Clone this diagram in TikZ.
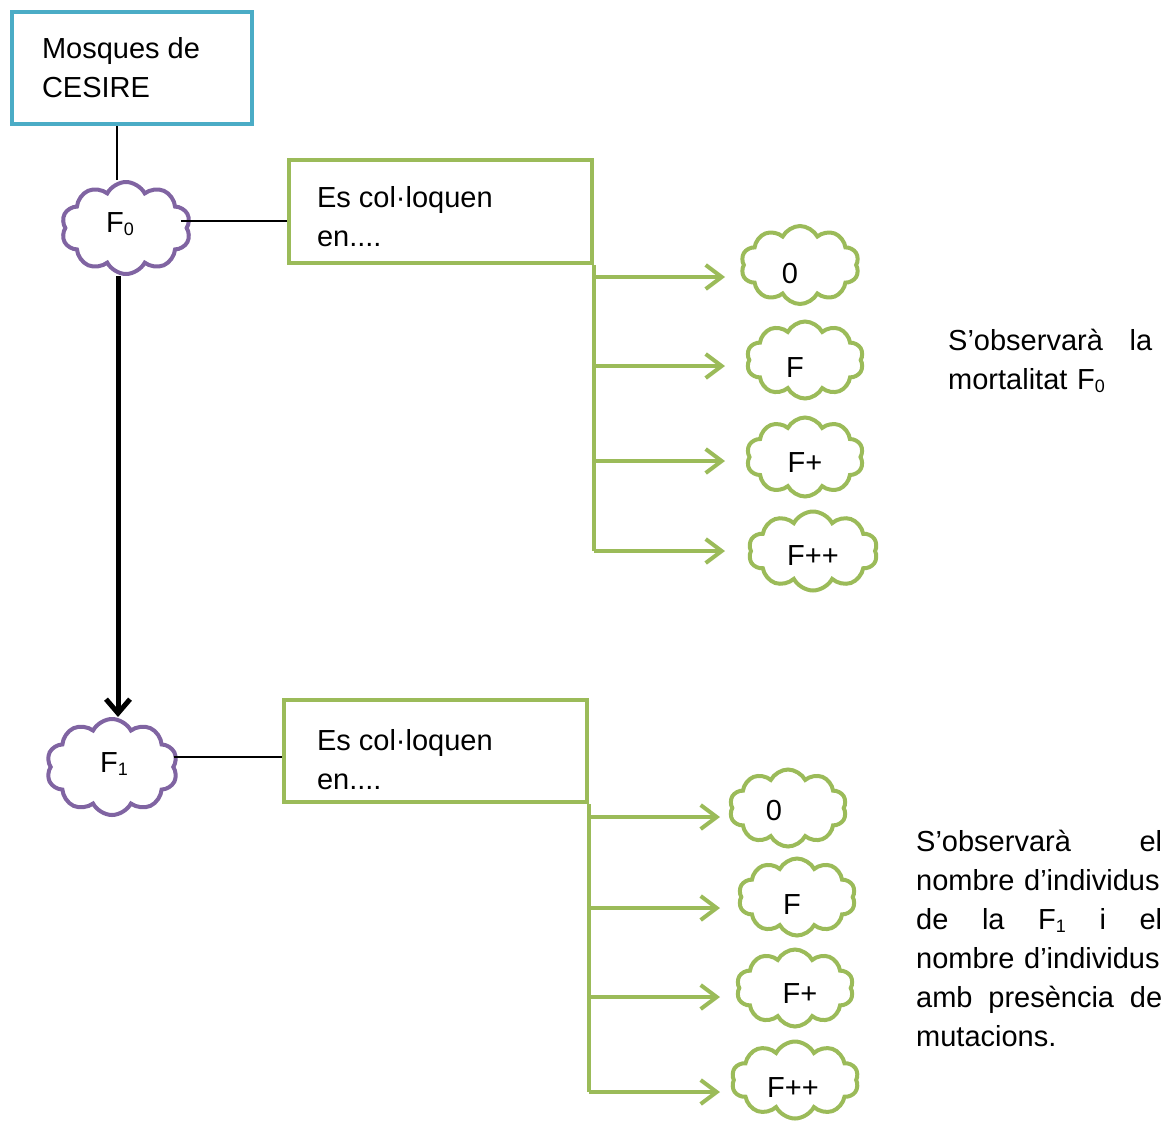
\documentclass[tikz,border=0pt]{standalone}
\usepackage{fontspec}
\setmainfont{Liberation Sans}
\usetikzlibrary{shapes.symbols,arrows.meta}
\definecolor{accblue}{HTML}{4BACC6}
\definecolor{accgreen}{HTML}{9BBB59}
\definecolor{accpurple}{HTML}{8064A2}
\newcommand\fsub[1]{\raisebox{-3pt}{\fontsize{18}{18}\selectfont #1}}
\newcommand\ctxt[3]{\raisebox{-#2}[0pt][0pt]{\makebox[0pt]{\hspace*{#1}\hspace*{#1}#3}}}
\newcommand\boxtxt[4]{\parbox[c][#2][t]{#1}{\rule{0pt}{#3}#4}}
\begin{document}
\begin{tikzpicture}[x=1pt,y=-1pt,
  every node/.style={font=\fontsize{29}{39}\selectfont, inner sep=0pt},
  framebox/.style={draw=#1, line width=4pt, rectangle, fill=white},
  puff/.style={cloud, cloud puffs=10, cloud puff arc=125, cloud ignores aspect, draw=#1, line width=4pt, fill=white},
  link/.style={draw=black, line width=1.5pt},
  gline/.style={draw=accgreen, line width=4pt},
  garrow/.style={gline, -{Straight Barb[length=16pt,width=24pt,line width=4pt]}},
  karrow/.style={draw=black, line width=5pt, -{Straight Barb[length=14pt,width=24pt,line width=5pt]}},
  note/.style={anchor=base west, align=left},
]
\useasboundingbox (0,0) rectangle (1174,1120);

% boxes
\node[framebox=accblue, inner xsep=30pt] (m) at (132,68) {\boxtxt{180pt}{112pt}{46pt}{Mosques de\\CESIRE}};
\node[framebox=accgreen, inner xsep=28pt] (b1) at (440.5,211.5) {\boxtxt{247pt}{103pt}{47pt}{Es col·loquen\\en....}};
\node[framebox=accgreen, inner xsep=33pt] (b2) at (435.5,751) {\boxtxt{237pt}{102pt}{50pt}{Es col·loquen\\en....}};

% generation clouds
\node[puff=accpurple, minimum width=129pt, minimum height=92pt] (f0) at (126,228) {\ctxt{-6pt}{4pt}{F\fsub{0}}};
\node[puff=accpurple, minimum width=131pt, minimum height=96pt] (f1) at (112,767) {\ctxt{2pt}{5pt}{F\fsub{1}}};

% first group clouds
\node[puff=accgreen, minimum width=118pt, minimum height=78pt] (g11) at (800,265) {\ctxt{-10pt}{18pt}{0}};
\node[puff=accgreen, minimum width=117pt, minimum height=77pt] (g12) at (805,360) {\ctxt{-10pt}{17pt}{F}};
\node[puff=accgreen, minimum width=117pt, minimum height=79pt] (g13) at (805,457) {\ctxt{0pt}{15pt}{F+}};
\node[puff=accgreen, minimum width=129pt, minimum height=79pt] (g14) at (813,551) {\ctxt{0pt}{14pt}{F++}};

% second group clouds
\node[puff=accgreen, minimum width=117pt, minimum height=77pt] (g21) at (788,808) {\ctxt{-14pt}{12pt}{0}};
\node[puff=accgreen, minimum width=117pt, minimum height=77pt] (g22) at (797,897) {\ctxt{-5pt}{17pt}{F}};
\node[puff=accgreen, minimum width=117pt, minimum height=77pt] (g23) at (795,988) {\ctxt{5pt}{15pt}{F+}};
\node[puff=accgreen, minimum width=127pt, minimum height=77pt] (g24) at (795,1080) {\ctxt{-2pt}{17pt}{F++}};

% notes
\node[note, text width=204pt] (n1) at (948,350) {S’observarà\hfill la\\mortalitat F\fsub{0}};
\node[note, text width=246pt] (n2) at (916,851) {S’observarà\hfill el\\nombre d’individus\\de\hfill la\hfill F\fsub{1}\hfill i\hfill el\\nombre d’individus\\amb\hfill presència\hfill de\\mutacions.};

% arrow tips
\coordinate (a11) at (725,277);
\coordinate (a12) at (725,366);
\coordinate (a13) at (725,461);
\coordinate (a14) at (725,551);
\coordinate (a21) at (720,817);
\coordinate (a22) at (720,908);
\coordinate (a23) at (720,997);
\coordinate (a24) at (720,1092);

% black links
\draw[link] ([xshift=-9pt]f0.north) -- ([xshift=-9pt]f0.north |- m.south);
\draw[link] ([xshift=-8pt,yshift=7pt]f0.east) coordinate (s0) -- (s0 -| b1.west);
\draw[link] ([xshift=-2pt,yshift=10pt]f1.east) coordinate (s1) -- (s1 -| b2.west);
\draw[karrow] ([xshift=-8pt]f0.south) -- ([xshift=-8pt]f0.south |- f1.north);

% green trees
\draw[gline] (b1.south east) -- (b1.south east |- a14);
\foreach \k in {1,2,3,4} \draw[garrow] (b1.south east |- a1\k) -- (a1\k);
\draw[gline] (b2.south east) -- (b2.south east |- a24);
\foreach \k in {1,2,3,4} \draw[garrow] (b2.south east |- a2\k) -- (a2\k);
\end{tikzpicture}
\end{document}
